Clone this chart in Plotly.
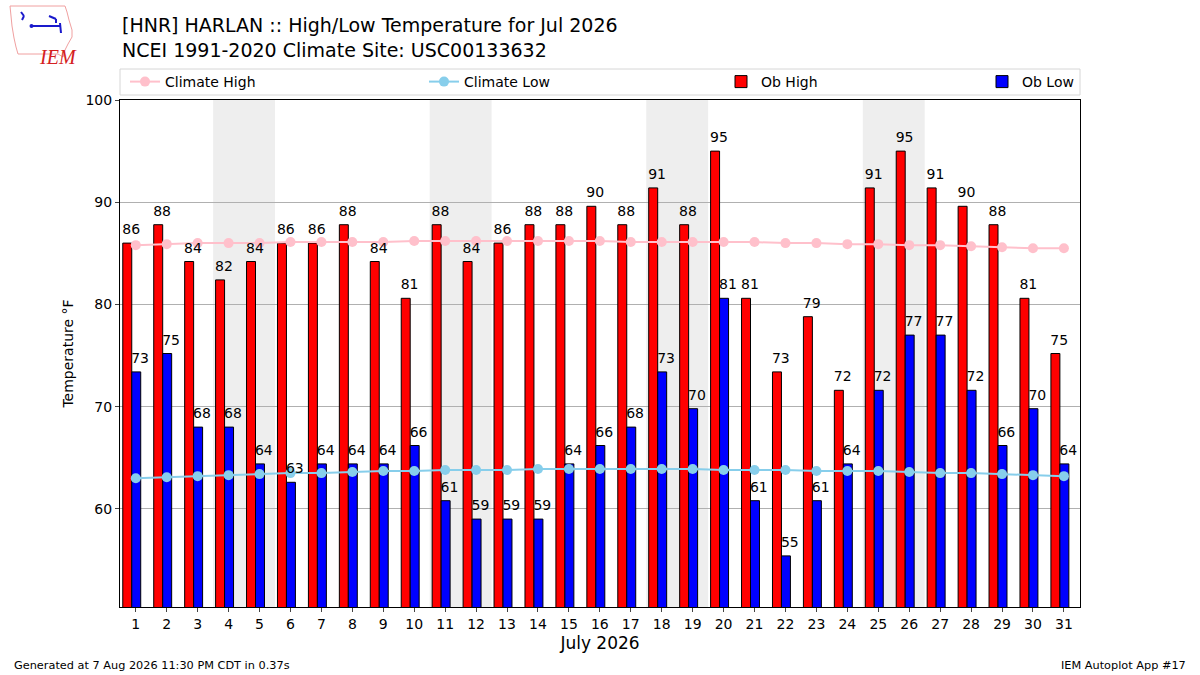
import datetime
import plotly.graph_objects as go

# daily observations (F) for Jul 2026
days = list(range(1, 32))
ob_high = [86.0, 87.8, 84.2, 82.4, 84.2, 86.0, 86.0, 87.8, 84.2, 80.6,
           87.8, 84.2, 86.0, 87.8, 87.8, 89.6, 87.8, 91.4, 87.8, 95.0,
           80.6, 73.4, 78.8, 71.6, 91.4, 95.0, 91.4, 89.6, 87.8, 80.6, 75.2]
ob_low = [73.4, 75.2, 68.0, 68.0, 64.4, 62.6, 64.4, 64.4, 64.4, 66.2,
          60.8, 59.0, 59.0, 59.0, 64.4, 66.2, 68.0, 73.4, 69.8, 80.6,
          60.8, 55.4, 60.8, 64.4, 71.6, 77.0, 77.0, 71.6, 66.2, 69.8, 64.4]
# NCEI 1991-2020 normals
climo_high = [85.8, 85.9, 86.0, 86.0, 86.0, 86.1, 86.1, 86.1, 86.1, 86.2,
              86.2, 86.2, 86.2, 86.2, 86.2, 86.2, 86.1, 86.1, 86.1, 86.1,
              86.1, 86.0, 86.0, 85.9, 85.9, 85.8, 85.8, 85.7, 85.6, 85.5, 85.5]
climo_low = [63.0, 63.1, 63.2, 63.3, 63.4, 63.5, 63.5, 63.6, 63.7, 63.7,
             63.8, 63.8, 63.8, 63.9, 63.9, 63.9, 63.9, 63.9, 63.9, 63.8,
             63.8, 63.8, 63.7, 63.7, 63.7, 63.6, 63.5, 63.5, 63.4, 63.3, 63.2]

FONT = "DejaVu Sans"
W, H = 1200, 675
L, R, T, B = 120, 120, 100, 68
PW, PH = W - L - R, H - T - B
BW = 0.29
HI_OFF, LO_OFF = -0.42, -0.13
LBL_SHIFT = 0.27  # half a two-digit label, so text starts at the bar's left edge


def px(x):
    return (x - L) / PW


def py(y):
    return (H - B - y) / PH


fig = go.Figure()

# bars
fig.add_trace(go.Bar(x=days, y=ob_high, width=BW, offset=HI_OFF, name="Ob High",
                     marker=dict(color="red", line=dict(color="black", width=1)),
                     legend="legend3"))
fig.add_trace(go.Bar(x=days, y=ob_low, width=BW, offset=LO_OFF, name="Ob Low",
                     marker=dict(color="blue", line=dict(color="black", width=1)),
                     legend="legend4"))

# climatology lines
fig.add_trace(go.Scatter(x=days, y=climo_high, mode="lines+markers", name="Climate High",
                         line=dict(color="pink", width=2), marker=dict(size=10, color="pink"),
                         legend="legend"))
fig.add_trace(go.Scatter(x=days, y=climo_low, mode="lines+markers", name="Climate Low",
                         line=dict(color="skyblue", width=2), marker=dict(size=10, color="skyblue"),
                         legend="legend2"))

# value labels above each bar
for off, vals in [(HI_OFF, ob_high), (LO_OFF, ob_low)]:
    fig.add_trace(go.Scatter(x=[d + off + LBL_SHIFT for d in days], y=vals, mode="markers+text",
                             text=[f"{v:.0f}" for v in vals], textposition="top center",
                             marker=dict(size=7, opacity=0),
                             textfont=dict(size=14, color="black", family=FONT),
                             showlegend=False, cliponaxis=False, hoverinfo="skip"))

# weekend shading
shapes = []
for d in days:
    if datetime.date(2026, 7, d).weekday() == 5:
        shapes.append(dict(type="rect", xref="x", yref="paper", x0=d - 0.5, x1=d + 1.5,
                           y0=0, y1=1, fillcolor="#eeeeee", line=dict(width=0), layer="below"))

# legend frame
shapes.append(dict(type="rect", xref="paper", yref="paper", x0=px(120), x1=px(1080),
                   y0=py(95), y1=py(69), line=dict(color="#d6d6d6", width=1),
                   fillcolor="rgba(255,255,255,0.8)", layer="below"))

# rough IEM logo: Iowa outline
iowa = [(10, 6), (65, 6), (67, 12), (69, 20), (72, 30), (72, 37), (68, 44),
        (65, 50), (63, 57), (58, 54), (18, 54), (16, 47), (14, 38), (12, 26),
        (11, 16)]
path = "M " + " L ".join(f"{px(a)},{py(b)}" for a, b in iowa) + " Z"
shapes.append(dict(type="path", xref="paper", yref="paper", path=path,
                   line=dict(color="#f0a0a0", width=1)))
for x0, y0, x1, y1 in [(31, 26, 60, 26), (49, 16, 56, 19), (56, 19, 56, 23),
                       (21, 12, 24, 16), (24, 16, 22, 20), (60, 23, 61, 33)]:
    shapes.append(dict(type="line", xref="paper", yref="paper", x0=px(x0), y0=py(y0),
                       x1=px(x1), y1=py(y1), line=dict(color="#1a1acc", width=2)))
shapes.append(dict(type="circle", xref="paper", yref="paper", x0=px(29.5), x1=px(33.5),
                   y0=py(28), y1=py(24), fillcolor="#1a1acc", line=dict(width=0)))

annotations = [
    dict(text="<i>IEM</i>", x=px(37), y=py(44), xref="paper", yref="paper", showarrow=False,
         font=dict(family="Liberation Serif", size=20, color="#d42020")),
    dict(text="[HNR] HARLAN :: High/Low Temperature for Jul 2026<br>NCEI 1991-2020 Climate Site: USC00133632",
         x=px(120), y=py(12), xref="paper", yref="paper", xanchor="left", yanchor="top",
         align="left", showarrow=False, font=dict(family=FONT, size=19, color="black")),
    dict(text="Generated at 7 Aug 2026 11:30 PM CDT in 0.37s", x=px(12), y=py(665),
         xref="paper", yref="paper", xanchor="left", yanchor="middle", showarrow=False,
         font=dict(family=FONT, size=11.3, color="black")),
    dict(text="IEM Autoplot App #17", x=px(1188), y=py(665), xref="paper", yref="paper",
         xanchor="right", yanchor="middle", showarrow=False,
         font=dict(family=FONT, size=11.3, color="black")),
]

leg = dict(orientation="h", yanchor="middle", y=py(82), xanchor="left",
           bgcolor="rgba(0,0,0,0)", font=dict(family=FONT, size=14, color="black"))
fig.update_layout(
    width=W, height=H,
    margin=dict(l=L, r=R, t=T, b=B),
    paper_bgcolor="white", plot_bgcolor="white",
    barmode="overlay",
    font=dict(family=FONT, size=14, color="black"),
    legend=dict(leg, x=px(125)),
    legend2=dict(leg, x=px(424)),
    legend3=dict(leg, x=px(721)),
    legend4=dict(leg, x=px(982)),
    shapes=shapes,
    annotations=annotations,
    xaxis=dict(range=[0.49, 31.52], tickmode="array", tickvals=days,
               ticktext=[str(d) for d in days], ticks="outside", ticklen=4,
               showgrid=False, showline=True, linecolor="black", mirror=True,
               title=dict(text="July 2026", font=dict(size=17), standoff=6),
               zeroline=False),
    yaxis=dict(range=[50.4, 100], tickvals=[60, 70, 80, 90, 100], ticks="outside", ticklen=4,
               showgrid=True, gridcolor="#b0b0b0", gridwidth=1, showline=True,
               linecolor="black", mirror=True, zeroline=False,
               title=dict(text="Temperature °F", font=dict(size=14), standoff=8)),
)

fig.write_html("out.html", config={"displayModeBar": False},
               post_script="document.body.style.margin='0';")
